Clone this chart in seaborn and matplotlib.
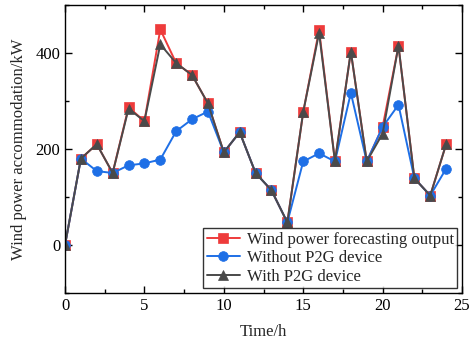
import matplotlib
matplotlib.use("Agg")
import matplotlib.pyplot as plt
import seaborn as sns
import pandas as pd
from matplotlib.ticker import MultipleLocator

hours = list(range(25))
forecast = [0, 180, 210, 150, 287, 258, 449, 379, 354, 295, 193, 235, 150, 114, 47,
            277, 448, 174, 403, 174, 246, 415, 139, 103, 210]
without_p2g = [0, 180, 154, 150, 166, 170, 178, 237, 262, 278, 193, 235, 150, 114, 47,
               174, 191, 174, 317, 174, 246, 292, 139, 103, 159]
with_p2g = [0, 180, 210, 150, 284, 258, 418, 379, 354, 295, 193, 235, 150, 114, 47,
            277, 442, 174, 403, 174, 232, 415, 139, 103, 210]

labels = ["Wind power forecasting output", "Without P2G device", "With P2G device"]
series = [forecast, without_p2g, with_p2g]
colors = ["#EE3B3B", "#1E6FE6", "#4A4A4A"]
markers = ["s", "o", "^"]

df = pd.concat(
    [pd.DataFrame({"Time": hours, "Value": v, "Series": lab}) for lab, v in zip(labels, series)],
    ignore_index=True,
)

sns.set_style("ticks")
plt.rcParams["font.family"] = ["Liberation Serif", "DejaVu Serif"]
plt.rcParams["mathtext.fontset"] = "stix"

fig = plt.figure(figsize=(4.76, 3.43), dpi=100)
ax = fig.add_axes([0.1366, 0.1458, 0.834, 0.8396])

for lab, col, mk in zip(labels, colors, markers):
    sns.lineplot(data=df[df["Series"] == lab], x="Time", y="Value", ax=ax,
                 color=col, marker=mk, markersize=7, markeredgewidth=0.5,
                 markeredgecolor=col, linewidth=1.4, label=lab)

ax.set_xlim(0, 25)
ax.set_ylim(-100, 500)
ax.xaxis.set_major_locator(MultipleLocator(5))
ax.xaxis.set_minor_locator(MultipleLocator(2.5))
ax.yaxis.set_major_locator(MultipleLocator(200))
ax.yaxis.set_minor_locator(MultipleLocator(100))
ax.tick_params(which="both", direction="in", top=True, right=True, labelsize=12,
               width=1, colors="black")
ax.tick_params(which="major", length=5)
ax.tick_params(which="minor", length=3)
for s in ax.spines.values():
    s.set_linewidth(1.0)
    s.set_color("black")

ax.set_xlabel("Time/h", fontsize=12, labelpad=7)
ax.set_ylabel("Wind power accommodation/kW", fontsize=12, labelpad=6)

leg = ax.legend(loc="lower right", fontsize=12, frameon=True, fancybox=False,
                edgecolor="black", borderaxespad=0.3, handlelength=2.0,
                borderpad=0.2, labelspacing=0.15, handletextpad=0.4)
leg.get_frame().set_linewidth(1.0)

fig.savefig("out.png", dpi=100)
